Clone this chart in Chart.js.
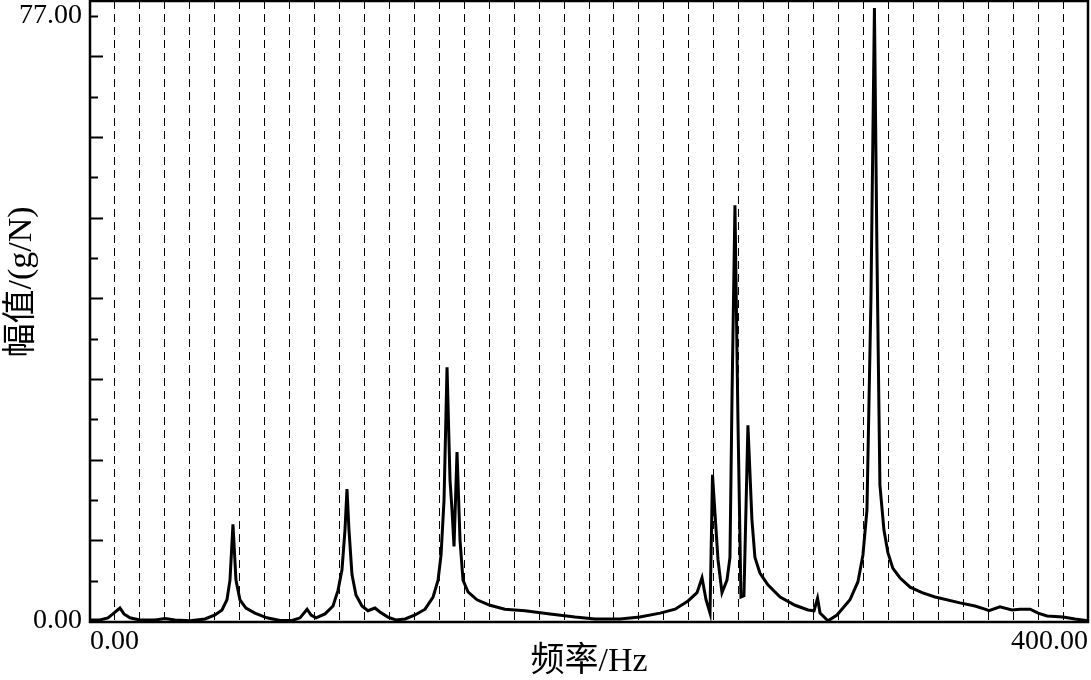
<!DOCTYPE html>
<html>
<head>
<meta charset="utf-8">
<script src="https://cdn.jsdelivr.net/npm/chart.js@4/dist/chart.umd.min.js"></script>
<style>
  html, body { margin: 0; padding: 0; background: #fff; }
  canvas { display: block; }
</style>
</head>
<body>
<canvas id="frf" width="1091" height="680"></canvas>
<script>
// frequency (Hz) and amplitude (g/N)
const freqs = [
  0, 4.0, 7.2, 9.2, 12.0, 13.6, 16.0, 20.0, 26.1, 30.1, 34.1, 40.1, 46.1, 50.1,
  52.9, 54.9, 56.1, 57.3, 58.5, 60.1, 62.5, 66.1, 70.9, 76.2, 81.0, 84.2, 87.0,
  88.6, 90.6, 94.2, 97.4, 99.4, 101.0, 102.2, 103.0, 103.8, 105.0, 106.6, 109.0,
  111.4, 114.2, 116.2, 119.4, 122.6, 126.3, 130.3, 134.3, 137.5, 139.5, 140.7,
  141.9, 143.1, 144.3, 145.1, 145.9, 147.1, 148.3, 149.5, 151.5, 155.1, 160.3,
  166.3, 174.3, 184.4, 194.4, 202.4, 212.4, 220.4, 228.5, 234.5, 239.7, 243.3,
  245.3, 246.9, 248.5, 249.5, 251.7, 253.3, 255.3, 256.5, 257.3, 258.5, 259.7,
  260.9, 262.1, 263.7, 265.3, 266.5, 268.5, 271.7, 276.6, 282.6, 287.8, 290.2,
  291.6, 292.6, 295.8, 299.4, 304.6, 307.8, 309.8, 311.4, 313.0, 314.4, 315.4,
  316.6, 318.2, 319.8, 321.8, 324.6, 328.7, 333.5, 338.7, 348.7, 354.7, 358.7,
  360.3, 364.7, 369.5, 372.7, 376.8, 380.0, 383.6, 390.0, 394.8, 400.0
];
const amps = [
  0.13, 0.13, 0.4, 0.9, 1.65, 0.9, 0.4, 0.13, 0.13, 0.32, 0.13, 0.02, 0.25, 0.76,
  1.4, 2.7, 5.2, 12.3, 5.2, 2.7, 1.65, 1.0, 0.4, 0.06, 0.06, 0.4, 1.5,
  0.76, 0.4, 0.9, 1.9, 3.9, 6.5, 11.6, 16.8, 11.6, 5.9, 3.3, 1.9,
  1.3, 1.65, 1.15, 0.5, 0.13, 0.25, 0.76, 1.5, 3.05, 5.2, 8.4,
  15.4, 32.3, 17.9, 14.1, 9.5, 21.5, 10.3, 5.2, 3.7, 2.7, 2.0,
  1.5, 1.3, 0.9, 0.5, 0.25, 0.25, 0.5, 1.0, 1.5, 2.55, 3.6,
  5.5, 2.7, 1.0, 18.6, 7.8, 3.6, 5.2, 8.1, 28.1, 52.9, 25.6,
  3.05, 3.2, 24.9, 12.9, 8.1, 6.1, 4.6, 3.05, 2.0, 1.4, 1.3,
  2.9, 1.0, 0.02, 0.76, 2.7, 5.0, 8.4, 14.1, 40.9, 78.0, 47.2,
  17.3, 11.6, 8.7, 6.7, 5.5, 4.3, 3.6, 3.05, 2.3, 1.9, 1.5,
  1.3, 1.8, 1.4, 1.5, 1.5, 1.0, 0.64, 0.5, 0.25, 0.02
];

// axis settings
const xMin = 0, xMax = 400, xStep = 10;
const yTop = 77, yDivisions = 15;
const xEndLabels = { 0: '0.00', 400: '400.00' };
const yEndLabels = ['0.00', '77.00'];
const xTitle = '频率/Hz';
const yTitle = '幅值/(g/N)';

const serif = "'Liberation Serif', 'Times New Roman', serif";
const titleFont = "'Liberation Serif', 'Noto Sans CJK SC', serif";

// frame box, inward ticks on the left axis and the y title
const frameBox = {
  id: 'frameBox',
  afterDraw(chart) {
    const { ctx, chartArea: a, scales } = chart;
    ctx.save();
    ctx.strokeStyle = '#000';
    ctx.lineWidth = 2;
    scales.y.ticks.forEach((t, k) => {
      if (k === 0) return;
      const y = Math.round(scales.y.getPixelForValue(t.value)) + 0.5;
      const len = k % 2 === 0 ? 13 : 8;
      ctx.beginPath();
      ctx.moveTo(a.left, y);
      ctx.lineTo(a.left + len, y);
      ctx.stroke();
    });
    ctx.lineWidth = 2.5;
    ctx.strokeRect(a.left, a.top, a.right - a.left, a.bottom - a.top);

    // y title sits a bit above the middle in the original
    ctx.translate(22, 282);
    ctx.rotate(-Math.PI / 2);
    ctx.fillStyle = '#000';
    ctx.font = '34px ' + titleFont;
    ctx.textAlign = 'center';
    ctx.textBaseline = 'middle';
    ctx.fillText(yTitle, 0, 0);
    ctx.restore();
  }
};

new Chart(document.getElementById('frf').getContext('2d'), {
  type: 'line',
  data: {
    datasets: [{
      data: freqs.map((f, i) => ({ x: f, y: amps[i] })),
      borderColor: '#000',
      borderWidth: 3,
      pointRadius: 0,
      tension: 0,
      fill: false
    }]
  },
  options: {
    responsive: false,
    animation: false,
    layout: { padding: { top: 1, right: 3, left: 0, bottom: 0 } },
    plugins: {
      legend: { display: false },
      tooltip: { enabled: false }
    },
    scales: {
      x: {
        type: 'linear',
        min: xMin,
        max: xMax,
        afterFit: s => {
          s.height = 58;
          s.paddingLeft = 0;
          s.paddingRight = 0;
        },
        border: { display: false, dash: [8, 5] },
        grid: {
          drawTicks: false,
          lineWidth: 1,
          color: c => (c.tick && (c.tick.value === xMin || c.tick.value === xMax)) ? 'rgba(0,0,0,0)' : '#000'
        },
        ticks: {
          stepSize: xStep,
          autoSkip: false,
          maxRotation: 0,
          align: 'inner',
          padding: 3,
          color: '#000',
          font: { family: serif, size: 28 },
          callback: v => xEndLabels[v] !== undefined ? xEndLabels[v] : ''
        },
        title: {
          display: true,
          text: xTitle,
          color: '#000',
          font: { family: titleFont, size: 34 },
          padding: { top: 0, bottom: -2 }
        }
      },
      y: {
        min: -0.13,
        max: 78.9,
        afterFit: s => {
          s.width = 90;
          s.paddingTop = 0;
          s.paddingBottom = 0;
        },
        afterBuildTicks: s => {
          const ticks = [];
          for (let k = 0; k <= yDivisions; k++) ticks.push({ value: yTop * k / yDivisions });
          s.ticks = ticks;
        },
        border: { display: false },
        grid: { display: false, drawTicks: false },
        ticks: {
          autoSkip: false,
          padding: 8,
          color: '#000',
          font: { family: serif, size: 28 },
          callback: (v, i, all) => i === 0 ? yEndLabels[0] : (i === all.length - 1 ? yEndLabels[1] : '')
        },
        title: { display: false }
      }
    }
  },
  plugins: [frameBox]
});
</script>
</body>
</html>
